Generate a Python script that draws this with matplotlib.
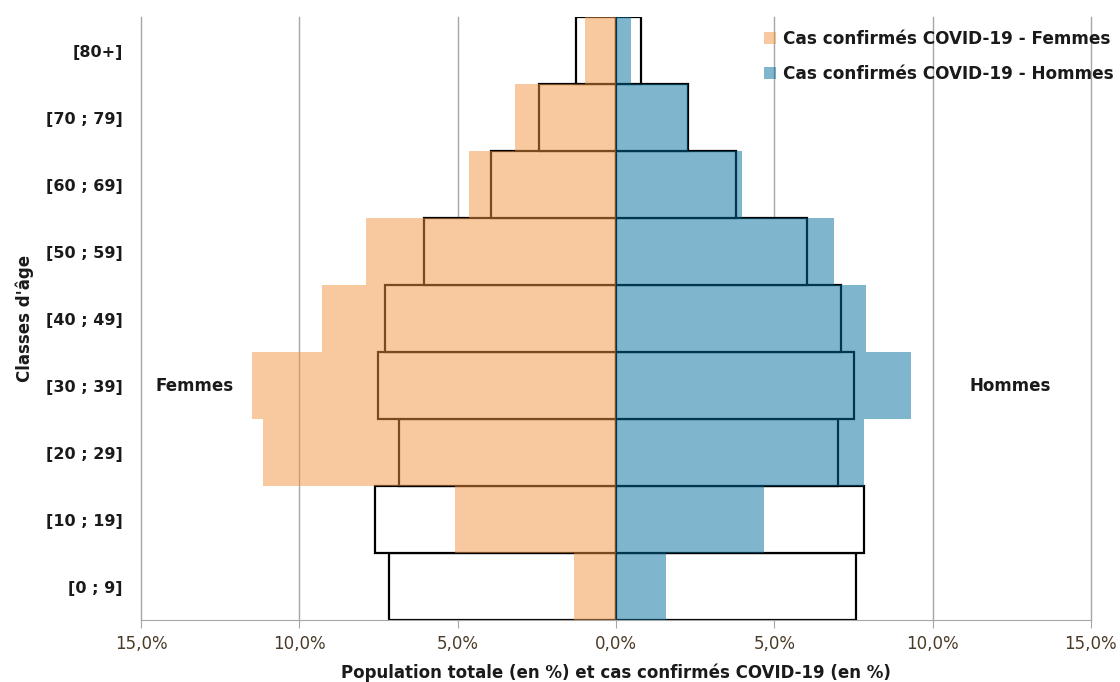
import matplotlib.pyplot as plt
import numpy as np

# age classes, bottom to top
classes = ["[0 ; 9]", "[10 ; 19]", "[20 ; 29]", "[30 ; 39]", "[40 ; 49]",
           "[50 ; 59]", "[60 ; 69]", "[70 ; 79]", "[80+]"]

# population totale (%)
pop_femmes = [7.16, 7.60, 6.85, 7.51, 7.29, 6.06, 3.94, 2.43, 1.26]
pop_hommes = [7.57, 7.85, 7.00, 7.51, 7.10, 6.03, 3.79, 2.27, 0.79]

# cas confirmés COVID-19 (%)
covid_femmes = [1.32, 5.08, 11.14, 11.51, 9.27, 7.89, 4.64, 3.19, 0.98]
covid_hommes = [1.58, 4.67, 7.82, 9.31, 7.89, 6.88, 3.97, 2.27, 0.47]

ticks = [-15, -10, -5, 0, 5, 10, 15]
tick_labels = ["15,0%", "10,0%", "5,0%", "0,0%", "5,0%", "10,0%", "15,0%"]

ORANGE = "#f39341"
BLUE = "#006d9d"
TXT = "#1a1a1a"

fig = plt.figure(figsize=(11.2, 6.82), dpi=100)
ax = fig.add_axes([0.1259, 0.0909, 0.974 - 0.1259, 0.975 - 0.0909])

y = np.arange(len(classes))

# gridlines
for t in ticks:
    ax.axvline(t, color="#a6a6a6", lw=1.0, zorder=0, clip_on=False)

# population outlines (white filled, black edge)
ax.barh(y, [-v for v in pop_femmes], height=1.0, color="white",
        edgecolor="black", lw=1.6, zorder=1)
ax.barh(y, pop_hommes, height=1.0, color="white",
        edgecolor="black", lw=1.6, zorder=1)

# covid bars, semi transparent
ax.barh(y, [-v for v in covid_femmes], height=1.0, color=ORANGE, alpha=0.5,
        lw=0, zorder=2, label="Cas confirmés COVID-19 - Femmes")
ax.barh(y, covid_hommes, height=1.0, color=BLUE, alpha=0.5,
        lw=0, zorder=2, label="Cas confirmés COVID-19 - Hommes")

ax.set_xlim(-15, 15)
ax.set_ylim(-0.5, len(classes) - 0.5)
ax.set_xticks(ticks)
ax.set_xticklabels(tick_labels, fontsize=12, color="#4a3a28")
ax.set_yticks(y)
ax.set_yticklabels(classes, fontsize=11.5, fontweight="bold", color=TXT)
ax.tick_params(axis="y", length=0, pad=13)
ax.tick_params(axis="x", length=6, color="#a6a6a6", pad=5)

for s in ["top", "right", "left"]:
    ax.spines[s].set_visible(False)
ax.spines["bottom"].set_color("#a6a6a6")
ax.spines["bottom"].set_zorder(3)

ax.set_xlabel("Population totale (en %) et cas confirmés COVID-19 (en %)",
              fontsize=12, fontweight="bold", color=TXT, labelpad=7)
ax.set_ylabel("Classes d'âge", fontsize=12, fontweight="bold", color=TXT,
              labelpad=9)

ax.text(-14.55, 3, "Femmes", fontsize=12, fontweight="bold", color=TXT,
        va="center", ha="left")
ax.text(13.75, 3, "Hommes", fontsize=12, fontweight="bold", color=TXT,
        va="center", ha="right")

leg = ax.legend(loc="upper right", bbox_to_anchor=(1.036, 0.998), frameon=False,
                fontsize=12.2, handlelength=0.7, handleheight=0.7,
                handletextpad=0.4, labelspacing=1.0, borderaxespad=0.3)
for t in leg.get_texts():
    t.set_fontweight("bold")
    t.set_color(TXT)

fig.savefig("out.png", dpi=100)
